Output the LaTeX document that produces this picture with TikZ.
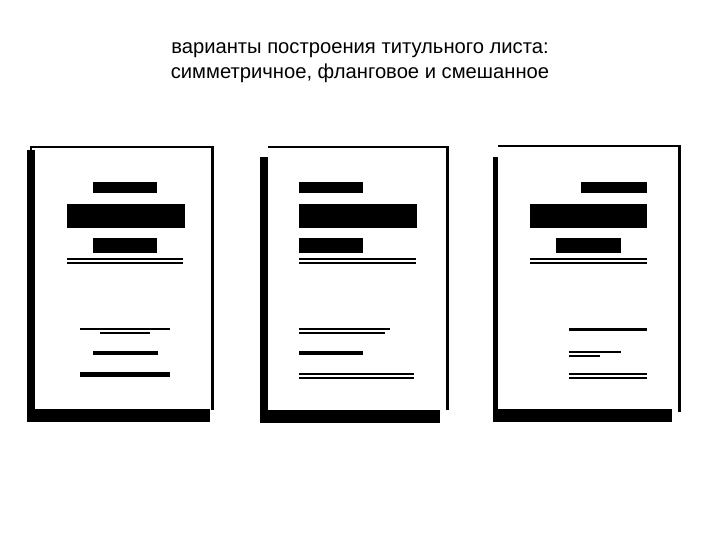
\documentclass[tikz,border=0pt]{standalone}
\usepackage{fontspec}
\setmainfont{Liberation Sans}

\begin{document}
\begin{tikzpicture}[x=1pt,y=-1pt]
        \useasboundingbox (0,0) rectangle (720,540);
        \def\lw{2}   % толщина тонких линий рамки

        % Заголовок
        \node[align=center, font=\fontsize{20.2}{25}\selectfont] (title) at (360,63)
            {варианты построения титульного листа:\\симметричное, фланговое и смешанное};

        % Лист 1 (симметричное)
        \fill[black] (27,150) rectangle (35,421);
        \fill[black] (30,146) rectangle (214,146+\lw);
        \fill[black] (30,146) rectangle (32,150);
        \fill[black] (211,146) rectangle (214,410);
        \fill[black] (27,409) rectangle (210,422);
        \fill[black] (93,182) rectangle (157,193);
        \fill[black] (67,204) rectangle (185,228);
        \fill[black] (93,238) rectangle (157,253);
        \fill[black] (67,258) rectangle (183,260);
        \fill[black] (67,262) rectangle (183,263.5);
        \fill[black] (80,328) rectangle (170,330);
        \fill[black] (100,332) rectangle (150,333.5);
        \fill[black] (93,351) rectangle (158,355);
        \fill[black] (80,372) rectangle (170,377);

        % Лист 2 (фланговое)
        \fill[black] (260,157) rectangle (268,422);
        \fill[black] (268,146) rectangle (448,146+\lw);
        \fill[black] (446,146) rectangle (449,410);
        \fill[black] (260,410) rectangle (440,423);
        \fill[black] (299,182) rectangle (363,193);
        \fill[black] (299,204) rectangle (417,228);
        \fill[black] (299,238) rectangle (363,253);
        \fill[black] (299,258) rectangle (416,260);
        \fill[black] (299,262) rectangle (416,263.5);
        \fill[black] (299,328) rectangle (390,330);
        \fill[black] (299,332) rectangle (385,333.5);
        \fill[black] (299,351) rectangle (363,355);
        \fill[black] (299,373) rectangle (414,375);
        \fill[black] (299,377) rectangle (414,379);

        % Лист 3 (смешанное)
        \fill[black] (493,157) rectangle (498,421);
        \fill[black] (498,145) rectangle (680,145+\lw);
        \fill[black] (678,145) rectangle (681,412);
        \fill[black] (493,409) rectangle (672,422);
        \fill[black] (581,182) rectangle (647,193);
        \fill[black] (530,204) rectangle (647,228);
        \fill[black] (556,238) rectangle (621,253);
        \fill[black] (530,258) rectangle (647,260);
        \fill[black] (530,262) rectangle (647,263.5);
        \fill[black] (569,328) rectangle (647,331);
        \fill[black] (569,351) rectangle (621,353);
        \fill[black] (569,355) rectangle (600,356.5);
        \fill[black] (569,373) rectangle (647,375);
        \fill[black] (569,377) rectangle (647,379);
\end{tikzpicture}
\end{document}
